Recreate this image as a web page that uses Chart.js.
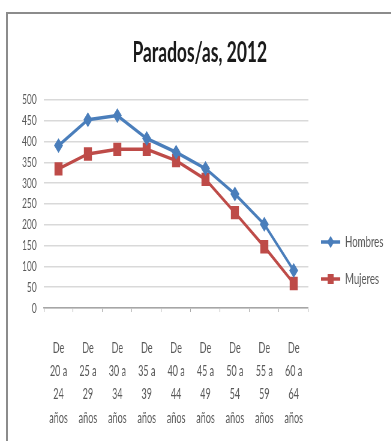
<!DOCTYPE html>
<html lang="es">
<head>
<meta charset="utf-8">
<title>Parados/as, 2012</title>
<script src="https://cdn.jsdelivr.net/npm/chart.js@4.4.1/dist/chart.umd.min.js"></script>
<style>
    html, body { margin: 0; padding: 0; background: #fff; overflow: hidden; }
    /* 차트 테두리 (왼쪽/위쪽만 화면에 보임) */
    #chart-frame {
        position: absolute; left: 6px; top: 12px; width: 420px; height: 440px;
        box-sizing: border-box;
        border-left: 2px solid #8c8c8c; border-top: 2px solid #8c8c8c;
    }
    /* 캔버스를 넓게 그린 뒤 가로로 눌러서 표시 */
    #paradosChart {
        position: absolute; left: 0; top: 0;
        transform: scaleX(0.6); transform-origin: 0 0;
    }
</style>
</head>
<body>
<div id="chart-frame"></div>
<canvas id="paradosChart" width="652" height="441"></canvas>
<script>
// 1. 연령대 구간 (한 라벨을 4줄로 표시)
const ageGroups = [
    ['De', '20 a', '24', 'años'],
    ['De', '25 a', '29', 'años'],
    ['De', '30 a', '34', 'años'],
    ['De', '35 a', '39', 'años'],
    ['De', '40 a', '44', 'años'],
    ['De', '45 a', '49', 'años'],
    ['De', '50 a', '54', 'años'],
    ['De', '55 a', '59', 'años'],
    ['De', '60 a', '64', 'años']
];

// 2. 계열 값 (천 명)
const hombresData = [390, 452, 462, 407, 374, 335, 274, 201, 90];
const mujeresData = [334, 370, 381, 381, 354, 309, 229, 147, 59];

// 3. 세로축 범위
const yAxisMin = 0;
const yAxisMax = 500;
const yAxisStep = 50;

const BLUE = '#4a7ebb';
const RED = '#be4b48';
const TEXT_GRAY = '#595959';

// 범례 아이콘: 선 + 마커를 작은 캔버스에 그림
function makeLegendIcon(color, shape) {
    const c = document.createElement('canvas');
    c.width = 32;
    c.height = 16;
    const ctx = c.getContext('2d');
    ctx.strokeStyle = color;
    ctx.lineWidth = 3.5;
    ctx.beginPath();
    ctx.moveTo(0, 8);
    ctx.lineTo(32, 8);
    ctx.stroke();
    ctx.fillStyle = color;
    if (shape === 'rect') {
        ctx.fillRect(11, 3, 10, 10);
    } else {
        ctx.beginPath();
        ctx.moveTo(16, 2);
        ctx.lineTo(22, 8);
        ctx.lineTo(16, 14);
        ctx.lineTo(10, 8);
        ctx.closePath();
        ctx.fill();
    }
    return c;
}

const legendIcons = [makeLegendIcon(BLUE, 'rectRot'), makeLegendIcon(RED, 'rect')];

const ctx = document.getElementById('paradosChart').getContext('2d');

new Chart(ctx, {
    type: 'line',
    data: {
        labels: ageGroups,
        datasets: [
            {
                label: 'Hombres',
                data: hombresData,
                borderColor: BLUE,
                backgroundColor: BLUE,
                borderWidth: 3.5,
                pointStyle: 'rectRot',
                pointRadius: 5,
                tension: 0
            },
            {
                label: 'Mujeres',
                data: mujeresData,
                borderColor: RED,
                backgroundColor: RED,
                borderWidth: 3.5,
                pointStyle: 'rect',
                pointRadius: 7,
                tension: 0
            }
        ]
    },
    options: {
        responsive: false,
        animation: false,
        devicePixelRatio: 1,
        layout: { padding: { left: 17, right: 3, top: 0, bottom: 0 } },
        scales: {
            x: {
                offset: true,
                grid: { display: true, drawOnChartArea: false, tickLength: 4, color: '#a6a6a6', offset: true },
                border: { display: true, color: '#a6a6a6', width: 1.5 },
                ticks: {
                    autoSkip: false,
                    maxRotation: 0,
                    padding: 24,
                    color: TEXT_GRAY,
                    font: { family: 'Lato', size: 15, lineHeight: 1.56 }
                },
                afterFit: (scale) => { scale.height = 133; }
            },
            y: {
                min: yAxisMin,
                max: yAxisMax,
                grid: { color: '#d9d9d9', lineWidth: 1.5, drawTicks: false },
                border: { display: false },
                ticks: {
                    stepSize: yAxisStep,
                    padding: 12,
                    color: TEXT_GRAY,
                    font: { family: 'Lato', size: 14 }
                },
                afterFit: (scale) => { scale.width = 56; }
            }
        },
        plugins: {
            title: {
                display: true,
                text: 'Parados/as, 2012',
                color: '#1a1a1a',
                font: { family: 'Lato', size: 29, weight: 'bold' },
                padding: { top: 35, bottom: 30 }
            },
            legend: {
                position: 'right',
                align: 'end',
                fullSize: false, // 플롯 영역 높이에 맞춰 아래쪽 정렬
                labels: {
                    usePointStyle: true,
                    pointStyleWidth: 32,
                    padding: 21,
                    color: TEXT_GRAY,
                    font: { family: 'Lato', size: 16 },
                    generateLabels: (chart) =>
                        Chart.defaults.plugins.legend.labels.generateLabels(chart)
                            .map((item, i) => ({ ...item, pointStyle: legendIcons[i] }))
                }
            },
            tooltip: { enabled: false }
        }
    }
});
</script>
</body>
</html>
